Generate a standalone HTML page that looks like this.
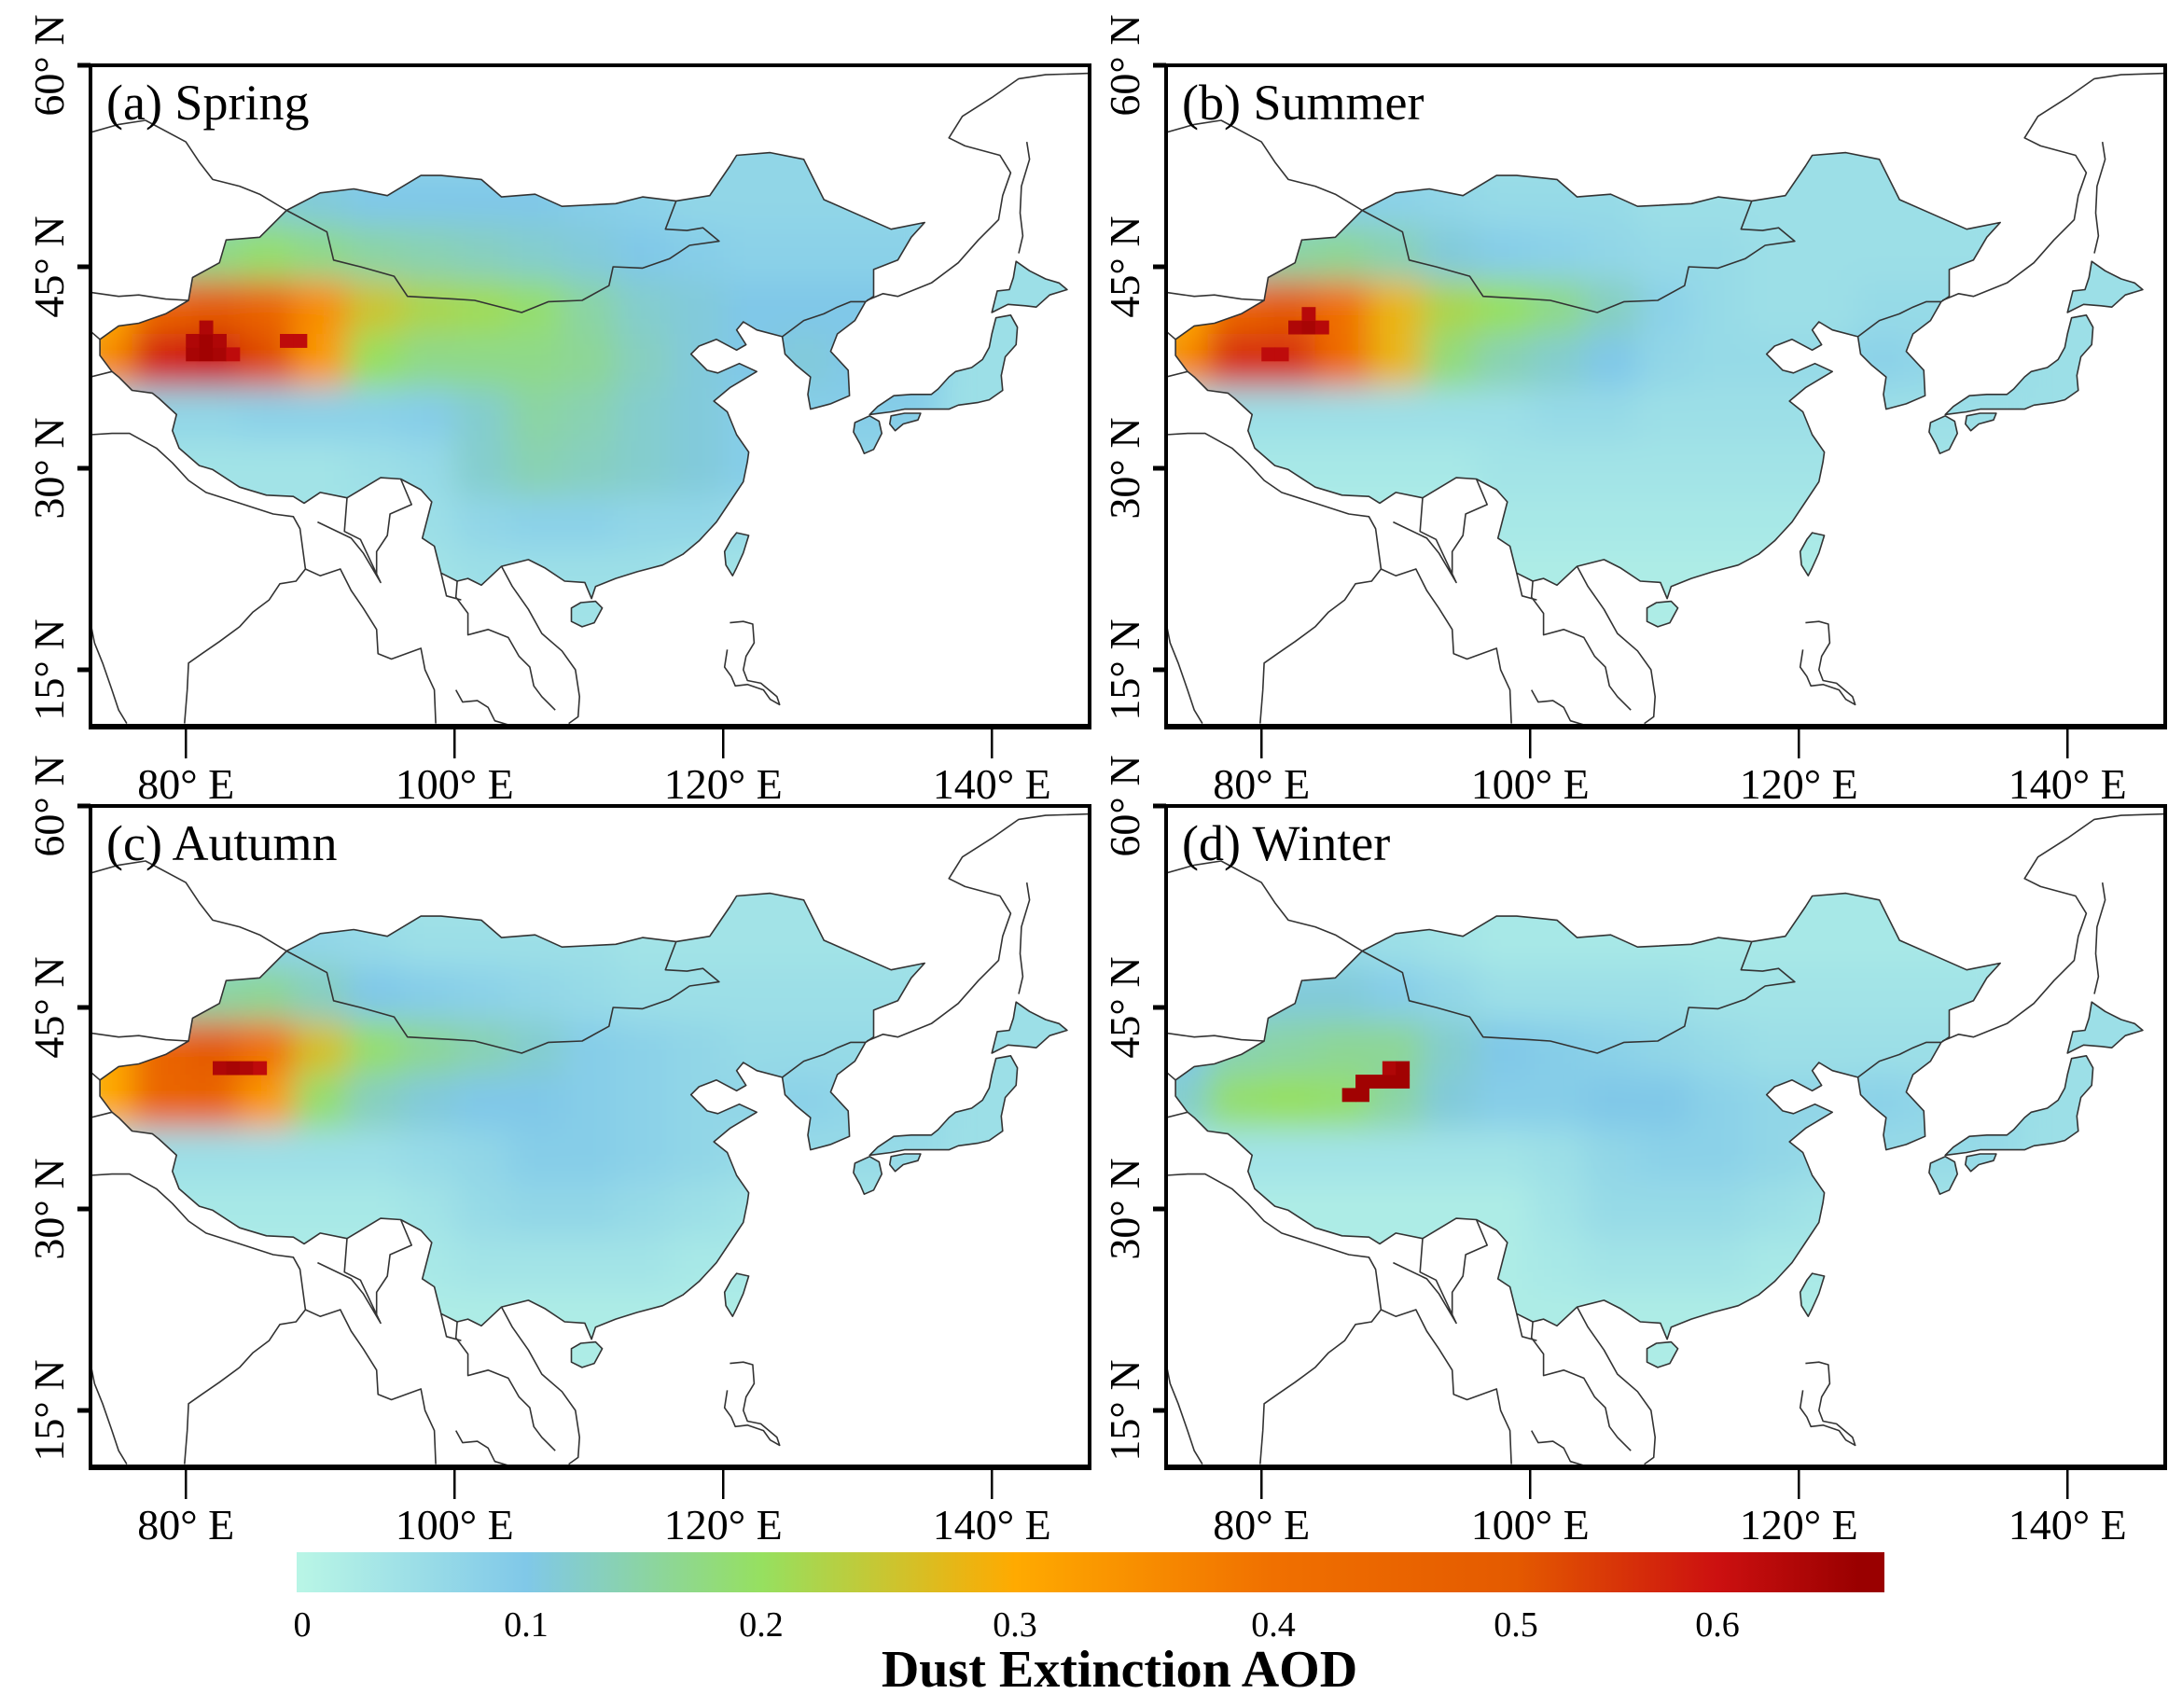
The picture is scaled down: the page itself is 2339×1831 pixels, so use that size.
<!DOCTYPE html>
<html><head><meta charset="utf-8"><style>
html,body{margin:0;padding:0;background:#fff;}
svg{display:block;font-family:"Liberation Serif",serif;}
</style></head><body>
<svg id="fig" width="2339" height="1831" viewBox="0 0 2339 1831" xmlns="http://www.w3.org/2000/svg">
<defs>
<filter id="blur" x="-20%" y="-20%" width="140%" height="140%"><feGaussianBlur stdDeviation="17"/></filter>
<linearGradient id="cbgrad" x1="0" x2="1" y1="0" y2="0"></linearGradient>
</defs>
</svg>
<script>
// ---- data ----
const gridLons=[74,78,82,86,90,94,98,102,106,110,114,118,122,126,130,134];
const gridLats=[54,50,46,42,38,34,30,26,22,18];
const springVals=[
[0.07,0.07,0.07,0.07,0.07,0.07,0.07,0.07,0.07,0.07,0.07,0.07,0.07,0.07,0.07,0.07],
[0.09,0.09,0.11,0.12,0.11,0.10,0.10,0.10,0.10,0.09,0.08,0.07,0.07,0.07,0.07,0.07],
[0.11,0.14,0.17,0.19,0.17,0.15,0.14,0.13,0.12,0.11,0.10,0.09,0.08,0.08,0.08,0.08],
[0.30,0.45,0.50,0.45,0.35,0.25,0.22,0.21,0.19,0.15,0.12,0.11,0.10,0.10,0.10,0.10],
[0.35,0.58,0.60,0.52,0.33,0.20,0.17,0.17,0.17,0.16,0.13,0.11,0.10,0.11,0.10,0.10],
[0.06,0.07,0.07,0.08,0.08,0.08,0.09,0.12,0.15,0.14,0.12,0.11,0.09,0.09,0.09,0.09],
[0.04,0.04,0.04,0.04,0.04,0.05,0.06,0.12,0.14,0.13,0.12,0.11,0.09,0.07,0.07,0.07],
[0.04,0.04,0.04,0.04,0.04,0.04,0.05,0.07,0.08,0.08,0.07,0.07,0.06,0.06,0.06,0.06],
[0.04,0.04,0.04,0.04,0.04,0.04,0.04,0.05,0.05,0.05,0.05,0.04,0.04,0.04,0.04,0.04],
[0.04,0.04,0.04,0.04,0.04,0.04,0.04,0.04,0.04,0.04,0.04,0.04,0.04,0.04,0.04,0.04]];
const summerVals=[
[0.05,0.05,0.05,0.05,0.05,0.05,0.05,0.05,0.05,0.05,0.05,0.05,0.05,0.05,0.05,0.05],
[0.06,0.07,0.08,0.09,0.08,0.07,0.06,0.06,0.06,0.05,0.05,0.05,0.05,0.05,0.05,0.05],
[0.09,0.12,0.15,0.16,0.14,0.11,0.09,0.08,0.07,0.06,0.06,0.05,0.05,0.05,0.05,0.05],
[0.30,0.45,0.50,0.40,0.28,0.22,0.20,0.17,0.13,0.08,0.06,0.05,0.05,0.06,0.06,0.06],
[0.35,0.56,0.56,0.42,0.28,0.18,0.14,0.12,0.10,0.07,0.06,0.06,0.06,0.08,0.07,0.07],
[0.04,0.05,0.05,0.05,0.05,0.05,0.05,0.06,0.06,0.05,0.05,0.05,0.05,0.05,0.05,0.05],
[0.03,0.03,0.03,0.03,0.03,0.03,0.04,0.04,0.04,0.04,0.04,0.04,0.04,0.04,0.04,0.04],
[0.02,0.02,0.02,0.02,0.02,0.02,0.03,0.03,0.03,0.03,0.03,0.03,0.03,0.03,0.03,0.03],
[0.02,0.02,0.02,0.02,0.02,0.02,0.02,0.02,0.02,0.02,0.02,0.02,0.02,0.02,0.02,0.02],
[0.02,0.02,0.02,0.02,0.02,0.02,0.02,0.02,0.02,0.02,0.02,0.02,0.02,0.02,0.02,0.02]];
const autumnVals=[
[0.04,0.04,0.04,0.04,0.04,0.04,0.04,0.04,0.04,0.04,0.04,0.04,0.04,0.04,0.04,0.04],
[0.05,0.06,0.07,0.08,0.07,0.06,0.05,0.05,0.05,0.05,0.04,0.04,0.04,0.04,0.04,0.04],
[0.09,0.13,0.15,0.16,0.13,0.10,0.09,0.08,0.07,0.06,0.05,0.05,0.05,0.05,0.05,0.05],
[0.30,0.45,0.50,0.40,0.26,0.19,0.16,0.14,0.12,0.09,0.08,0.07,0.06,0.06,0.06,0.06],
[0.30,0.45,0.46,0.33,0.19,0.13,0.11,0.10,0.10,0.09,0.08,0.07,0.07,0.08,0.07,0.07],
[0.04,0.05,0.05,0.05,0.05,0.05,0.06,0.07,0.09,0.09,0.08,0.07,0.06,0.06,0.06,0.06],
[0.03,0.03,0.03,0.03,0.03,0.03,0.04,0.06,0.07,0.07,0.06,0.05,0.04,0.04,0.04,0.04],
[0.02,0.02,0.02,0.02,0.02,0.02,0.03,0.04,0.04,0.04,0.04,0.03,0.03,0.03,0.03,0.03],
[0.02,0.02,0.02,0.02,0.02,0.02,0.02,0.02,0.02,0.02,0.02,0.02,0.02,0.02,0.02,0.02],
[0.02,0.02,0.02,0.02,0.02,0.02,0.02,0.02,0.02,0.02,0.02,0.02,0.02,0.02,0.02,0.02]];
const winterVals=[
[0.03,0.03,0.03,0.03,0.03,0.03,0.03,0.03,0.03,0.03,0.03,0.03,0.03,0.03,0.03,0.03],
[0.04,0.04,0.05,0.06,0.05,0.04,0.03,0.03,0.03,0.03,0.03,0.03,0.03,0.03,0.03,0.03],
[0.07,0.09,0.11,0.11,0.09,0.07,0.05,0.05,0.05,0.05,0.04,0.04,0.04,0.04,0.04,0.04],
[0.10,0.14,0.15,0.16,0.16,0.12,0.10,0.09,0.08,0.07,0.06,0.05,0.05,0.05,0.05,0.05],
[0.12,0.19,0.20,0.19,0.15,0.11,0.09,0.09,0.10,0.10,0.08,0.07,0.07,0.08,0.07,0.07],
[0.03,0.04,0.04,0.04,0.04,0.04,0.04,0.05,0.07,0.08,0.08,0.07,0.06,0.06,0.06,0.06],
[0.02,0.02,0.02,0.02,0.02,0.02,0.02,0.04,0.06,0.06,0.06,0.05,0.04,0.04,0.04,0.04],
[0.02,0.02,0.02,0.02,0.02,0.02,0.02,0.03,0.04,0.04,0.04,0.03,0.03,0.03,0.03,0.03],
[0.02,0.02,0.02,0.02,0.02,0.02,0.02,0.02,0.02,0.02,0.02,0.02,0.02,0.02,0.02,0.02],
[0.02,0.02,0.02,0.02,0.02,0.02,0.02,0.02,0.02,0.02,0.02,0.02,0.02,0.02,0.02,0.02]];
// fine 1-degree hot cells: [lon, lat, value]
const springHot=[[80,38,0.65],[81,38,0.66],[82,38,0.65],[80,39,0.64],[81,39,0.66],[82,39,0.64],[81,40,0.64],[83,38,0.62],[87,39,0.62],[88,39,0.62]];
const summerHot=[[82,40,0.64],[83,40,0.65],[84,40,0.63],[83,41,0.63],[80,38,0.62],[81,38,0.62]];
const autumnHot=[[82,40,0.64],[83,40,0.65],[84,40,0.64],[85,40,0.62]];
const winterHot=[[86,38,0.66],[87,38,0.66],[87,39,0.66],[88,39,0.66],[89,39,0.66],[90,39,0.66],[89,40,0.64],[90,40,0.66]];
const latTicks=[60,45,30,15];
const lonTicks=[80,100,120,140];
const cbTickVals=[0,0.1,0.2,0.3,0.4,0.5,0.6];
const cbTickLabels=["0","0.1","0.2","0.3","0.4","0.5","0.6"];
const cbTickX=[324,564,816,1088,1365,1625,1841];
const cbColorVals=[0,0.1,0.2,0.3,0.4,0.5,0.6,0.67];
const cbColors=["#b8f5e6","#80c8e8","#96e060","#ffaa00","#f07000","#e45a00","#cc1010","#9a0000"];
const panels=[
 {id:"a",title:"(a) Spring",x:97,y:70,vals:springVals,hot:springHot},
 {id:"b",title:"(b) Summer",x:1250,y:70,vals:summerVals,hot:summerHot},
 {id:"c",title:"(c) Autumn",x:97,y:864,vals:autumnVals,hot:autumnHot},
 {id:"d",title:"(d) Winter",x:1250,y:864,vals:winterVals,hot:winterHot}];
// geography (lon,lat)
const chinaMong=[[73.6,39.6],[75,40.6],[76.5,40.8],[78.5,41.5],[80.2,42.5],[80.5,44.2],[82.5,45.3],[83,47],[85.5,47.2],[87.5,49.2],[90,50.5],[92.5,50.8],[95,50.3],[97.5,51.8],[99,51.8],[102,51.5],[103.5,50.2],[106,50.4],[108,49.5],[112,49.7],[114,50.2],[116.5,49.9],[119,50.3],[120.5,52.5],[121,53.3],[123.5,53.5],[126,53],[127.5,50],[130,48.9],[132.5,47.8],[135,48.3],[134,47.2],[133,45.5],[131.2,44.8],[131.2,42.8],[130.6,42.4],[129.8,41],[128.5,40],[128,38.7],[129.3,37.3],[129.4,35.4],[128,34.8],[126.5,34.4],[126.3,35.5],[126.5,36.8],[125.4,37.7],[124.6,38.5],[124.4,39.8],[122.5,40.3],[121.5,40.9],[121,40.3],[121.7,39.2],[121,38.8],[119.5,39.6],[118.2,39.1],[117.6,38.5],[118.8,37.3],[119.6,37.1],[121.2,37.8],[122.5,37.2],[120.5,36],[119.3,35],[120.3,34.2],[121,32.5],[121.9,31.2],[121.8,30.5],[121.5,29],[120.5,27.5],[119.5,26],[118.2,24.6],[117,23.6],[115.5,22.8],[113.6,22.3],[112,21.8],[110.5,21.2],[110.2,20.3],[109.7,21.5],[108.2,21.6],[106.7,22.6],[105.5,23.2],[103.5,22.7],[102,21.3],[101,21.8],[100.2,21.6],[99,22.2],[98.5,24.2],[97.6,24.8],[98.3,27.5],[97.5,28.4],[96,29.2],[94.5,29.3],[92,27.8],[90,28.2],[88.8,27.4],[88,27.9],[86,28],[84,28.6],[82,29.9],[81,30.2],[79.5,31.5],[79,32.8],[79.3,34],[78,35.2],[77.5,35.6],[76,35.8],[75,36.8],[74.5,37.2],[73.6,38.4]];
const japanHonshu=[[130.9,34],[132.5,34.2],[133.5,34.4],[135,34.4],[136.8,34.4],[137.5,34.7],[139,34.9],[139.8,35.1],[140.8,35.8],[140.7,36.9],[141,38.3],[141.8,39.2],[141.9,40.5],[141.4,41.4],[140.3,41.2],[140,40],[139.8,39],[139.3,38.1],[138.5,37.5],[137.3,37.2],[136.8,36.8],[136,35.9],[135.5,35.5],[134,35.5],[132.7,35.4],[131.5,34.6]];
const japanHokkaido=[[140,41.6],[141.2,42.2],[142.5,42.1],[143.3,42],[144.3,42.9],[145.6,43.3],[145,43.8],[144,44.1],[142.8,44.7],[141.8,45.4],[141.6,44.2],[141.3,43.3],[140.4,43.2],[140.2,42.4]];
const japanKyushu=[[129.8,33.4],[130.9,33.9],[131.6,33.5],[131.8,32.6],[131.2,31.4],[130.5,31.1],[130.2,31.8],[129.7,32.7]];
const japanShikoku=[[132.5,33.9],[133.5,34.1],[134.7,34.1],[134.5,33.6],[133.4,33.3],[132.8,32.8],[132.4,33.3]];
const taiwan=[[121,25.2],[121.9,25],[121.5,23.7],[121,22.6],[120.7,22],[120.2,22.8],[120.1,23.8],[120.6,24.7]];
const hainan=[[108.7,19.6],[109.4,20],[110.5,20.1],[111,19.6],[110.4,18.5],[109.5,18.2],[108.7,18.6]];
const lines=[
 [[72.9,55],[75,55.6],[77,55.9],[80,54.3],[81,52.8],[82,51.5],[84,51],[85.5,50.4],[87.5,49.2]],
 [[87.5,49.2],[90.5,47.6],[91,45.5],[93,45],[95.5,44.3],[96.5,42.8],[100,42.6],[101.5,42.5],[105,41.6],[107,42.4],[109.5,42.5],[111.5,43.6],[111.8,45],[114,44.9],[116,45.6],[117.5,46.6],[119.7,46.9],[118.5,47.9],[117.3,47.7],[115.7,47.8],[116.5,49.9]],
 [[124.4,39.8],[126,41],[127.5,41.5],[128.5,42],[129.5,42.4],[130.6,42.4]],
 [[130.7,42.5],[131.9,43],[133,42.8],[135.5,43.8],[137.5,45.3],[139,47],[140.5,48.5],[140.8,50.3],[141.4,52],[140.6,53.3],[138,54],[136.8,54.6],[137.8,56.2],[140,57.6],[142,59],[144,59.3],[147.3,59.4]],
 [[142,46],[142.3,47.3],[142.1,49],[142.2,51],[142.8,53],[142.6,54.3]],
 [[72.9,32.5],[74.5,32.6],[75.8,32.6],[77.8,31.5],[79,30.4],[80.2,29.1],[81.5,28.2],[84,27.4],[86.5,26.6],[88,26.4],[88.5,25.5],[88.9,22.5],[88.2,21.6],[87,21.4],[86.2,20.2],[85,19.3],[84,18.2],[82.5,17.1],[81.2,16.2],[80.2,15.5],[80.1,13.5],[79.9,11]],
 [[72.9,20.5],[72.8,19],[73.2,17],[73.8,15.5],[74.5,13.5],[75,12],[75.6,11]],
 [[88.9,22.5],[90,22],[91.5,22.5],[92.3,20.9],[93.2,19.6],[94.2,18],[94.3,16.2],[95.3,15.8],[97.5,16.6],[97.8,15],[98.5,13.5],[98.6,11]],
 [[92,27.8],[91.8,25.3],[93,24.7],[94.5,21.5],[93.2,23.7],[92.3,24.8],[89.8,26]],
 [[96,29.2],[96.8,27.3],[95.2,26.6],[95,25],[94.2,23.8],[94.2,22]],
 [[100.2,21.6],[100.1,20.4],[101,19.2],[101,17.6],[102.5,18],[104,17.4],[104.8,16],[105.6,15.2],[105.9,13.8],[106.5,13],[107.5,12]],
 [[103.5,22.7],[104.3,21.2],[105.5,19.5],[106.5,17.7],[108,16.4],[109,15],[109.3,13],[109.2,11.5],[108.5,11]],
 [[99,22.2],[99.4,20.5],[100.5,20.2]],
 [[100.1,13.5],[100.6,12.6],[101.7,12.7],[102.5,12.2],[103,11.2],[104,10.9]],
 [[120.5,18.5],[121.5,18.6],[122.2,18.4],[122.3,17],[121.7,16],[121.5,15],[121.8,14.2],[122.8,14],[124,13],[124.2,12.4],[123.5,12.8],[123,13.5],[121.8,13.9],[120.9,13.8],[120.6,14.5],[120.1,15.2],[120.3,16.5]],
 [[72.9,43.1],[75,42.8],[76.5,42.9],[78.5,42.6],[80.2,42.5]],
 [[72.9,40.2],[73.6,39.6]],
 [[72.9,36.8],[74.5,37.2]]
];
const lonMin=72.9, latMax=60, pxDeg=14.4, pW=1071, pH=708;
// ---- helpers ----
const NS="http://www.w3.org/2000/svg";
const svg=document.getElementById('fig');
function mk(tag,attrs,parent){const e=document.createElementNS(NS,tag);for(const k in attrs)e.setAttribute(k,attrs[k]);(parent||svg).appendChild(e);return e;}
function hexToRgb(h){return [parseInt(h.substr(1,2),16),parseInt(h.substr(3,2),16),parseInt(h.substr(5,2),16)];}
function colorOf(v){
 if(v<=cbColorVals[0])return cbColors[0];
 for(let i=1;i<cbColorVals.length;i++){if(v<=cbColorVals[i]){const t=(v-cbColorVals[i-1])/(cbColorVals[i]-cbColorVals[i-1]);const a=hexToRgb(cbColors[i-1]),b=hexToRgb(cbColors[i]);return 'rgb('+a.map((c,j)=>Math.round(c+(b[j]-c)*t)).join(',')+')';}}
 return cbColors[cbColors.length-1];}
function xs(lon,ox){return ox+(lon-lonMin)*pxDeg;}
function ys(lat,oy){return oy+(latMax-lat)*pxDeg;}
function pathOf(pts,ox,oy,close){return pts.map((p,i)=>(i?'L':'M')+xs(p[0],ox).toFixed(1)+' '+ys(p[1],oy).toFixed(1)).join('')+(close?'Z':'');}
const lands=[chinaMong,japanHonshu,japanHokkaido,japanKyushu,japanShikoku,taiwan,hainan];
// ---- panels ----
panels.forEach(P=>{
 const g=mk('g',{});
 
 
 const cp=mk('clipPath',{id:'land'+P.id},svg.querySelector('defs'));
 lands.forEach(l=>mk('path',{d:pathOf(l,P.x,P.y,true)},cp));
 const fcp=mk('clipPath',{id:'frame'+P.id},svg.querySelector('defs'));
 mk('rect',{x:P.x,y:P.y,width:pW,height:pH},fcp);
 const inner=mk('g',{'clip-path':'url(#frame'+P.id+')'},g);
 const land=mk('g',{'clip-path':'url(#land'+P.id+')'},inner);
 
 
 mk('rect',{x:P.x,y:P.y,width:pW,height:pH,fill:colorOf(0.05)},land);
 const bl=mk('g',{filter:'url(#blur)'},land);
 P.vals.forEach((row,ri)=>row.forEach((v,ci)=>{
  const r=mk('rect',{x:xs(gridLons[ci]-2,P.x),y:ys(gridLats[ri]+2,P.y),width:4*pxDeg+1,height:4*pxDeg+1,fill:colorOf(v)},bl);
  
  
 }));
 P.hot.forEach(h=>{
  const r=mk('rect',{x:xs(h[0],P.x),y:ys(h[1]+1,P.y),width:pxDeg+0.5,height:pxDeg+0.5,fill:colorOf(h[2])},land);
  
  
 });
 const cl=mk('g',{fill:'none',stroke:'#333','stroke-width':1.6,'stroke-linejoin':'round'},inner);
 
 
 lands.forEach(l=>mk('path',{d:pathOf(l,P.x,P.y,true)},cl));
 lines.forEach(l=>mk('path',{d:pathOf(l,P.x,P.y,false)},cl));
 const fr=mk('rect',{x:P.x,y:P.y,width:pW,height:pH,fill:'none',stroke:'#000','stroke-width':4},g);
 
 
 mk('line',{x1:P.x-2,x2:P.x+pW+2,y1:P.y+pH+1,y2:P.y+pH+1,stroke:'#000','stroke-width':6},g);
 const t=mk('text',{x:P.x+17,y:P.y+58,'font-size':54,fill:'#000'},g);t.textContent=P.title;
 
 
 lonTicks.forEach(lon=>{
  const x=xs(lon,P.x);
  mk('line',{x1:x,x2:x,y1:P.y+pH+3,y2:P.y+pH+35,stroke:'#000','stroke-width':2.5},g);
  const tl=mk('text',{x:x,y:P.y+pH+78,'font-size':46,'text-anchor':'middle'},g);tl.textContent=lon+'° E';
  
  
 });
 latTicks.forEach(lat=>{
  const y=ys(lat,P.y);
  mk('line',{x1:P.x-14,x2:P.x,y1:y,y2:y,stroke:'#000','stroke-width':5},g);
  const lx=P.x-29;
  const tl=mk('text',{x:lx,y:y,'font-size':46,'text-anchor':'middle',transform:'rotate(-90 '+lx+' '+y+')'},g);tl.textContent=lat+'° N';
  
  
 });
});
// ---- colorbar ----
const cbX0=318,cbX1=2020,cbY=1664,cbH=43;
function cbx(v){for(let i=1;i<cbTickVals.length;i++){if(v<=cbTickVals[i]){const t=(v-cbTickVals[i-1])/(cbTickVals[i]-cbTickVals[i-1]);return cbTickX[i-1]+t*(cbTickX[i]-cbTickX[i-1]);}}const n=cbTickVals.length;return cbTickX[n-1]+(v-cbTickVals[n-1])/(cbTickVals[n-1]-cbTickVals[n-2])*(cbTickX[n-1]-cbTickX[n-2]);}
const grad=document.getElementById('cbgrad');
cbColorVals.forEach((v,i)=>{let f=(cbx(v)-cbX0)/(cbX1-cbX0);f=Math.max(0,Math.min(1,f));mk('stop',{offset:f,'stop-color':cbColors[i]},grad);});
const cb=mk('rect',{x:cbX0,y:cbY,width:cbX1-cbX0,height:cbH,fill:'url(#cbgrad)'});


cbTickVals.forEach((v,i)=>{
 const t=mk('text',{x:cbTickX[i],y:1754,'font-size':38,'text-anchor':'middle'});t.textContent=cbTickLabels[i];
 
 
});
const ct=mk('text',{x:1200,y:1808,'font-size':56,'font-weight':'bold','text-anchor':'middle'});ct.textContent='Dust Extinction AOD';


</script>
</body></html>
